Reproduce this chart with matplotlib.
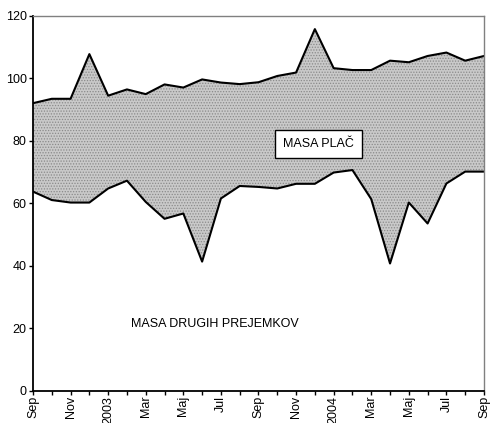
import matplotlib
matplotlib.use('Agg')
import matplotlib.pyplot as plt
import numpy as np

plt.rcParams['font.family'] = ['Liberation Sans', 'DejaVu Sans']
plt.rcParams['hatch.color'] = '#8a8a8a'
plt.rcParams['hatch.linewidth'] = 0.6

# monthly data, Sep 2002 - Sep 2004
masa_skupaj = [92.1, 93.5, 93.5, 107.8, 94.5, 96.5, 95.0, 98.1, 97.1, 99.7,
               98.7, 98.2, 98.8, 100.8, 101.9, 115.8, 103.3, 102.7, 102.7,
               105.7, 105.2, 107.2, 108.3, 105.7, 107.2]
masa_drugih = [63.8, 61.1, 60.3, 60.3, 64.8, 67.3, 60.5, 55.1, 56.8, 41.4,
               61.6, 65.6, 65.3, 64.8, 66.3, 66.3, 69.9, 70.7, 61.4, 40.8,
               60.3, 53.6, 66.4, 70.2, 70.2]
tick_labels = ['Sep', 'Nov', '2003', 'Mar', 'Maj', 'Jul', 'Sep', 'Nov',
               '2004', 'Mar', 'Maj', 'Jul', 'Sep']

x = np.arange(len(masa_skupaj))

fig = plt.figure(figsize=(4.91, 4.23), dpi=100)
ax = fig.add_axes([0.0672, 0.0757, 0.9185, 0.8865])

ax.fill_between(x, masa_drugih, masa_skupaj, facecolor='#c9c9c9',
                hatch='......', edgecolor='#8a8a8a', linewidth=0)
ax.plot(x, masa_skupaj, color='black', lw=1.5)
ax.plot(x, masa_drugih, color='black', lw=1.5)

ax.set_xlim(0, len(x) - 1)
ax.set_ylim(0, 120)
ax.set_yticks([0, 20, 40, 60, 80, 100, 120])
ax.set_xticks(x[::2])
ax.set_xticklabels(tick_labels, rotation=90)
ax.set_xticks(x, minor=True)
ax.tick_params(axis='both', which='both', direction='out', length=3,
               width=1, labelsize=9)
ax.tick_params(axis='x', which='major', pad=0.5)
ax.tick_params(axis='y', pad=1.5)

for s in ['top', 'right']:
    ax.spines[s].set_color('#808080')
    ax.spines[s].set_linewidth(1)
for s in ['left', 'bottom']:
    ax.spines[s].set_linewidth(1.3)

ax.text(15.2, 79, 'MASA PLAČ', fontsize=9, ha='center', va='center',
        bbox=dict(facecolor='white', edgecolor='black', lw=1, pad=6))
ax.text(9.7, 21.5, 'MASA DRUGIH PREJEMKOV', fontsize=9,
        ha='center', va='center')

fig.savefig('out.png', dpi=100)
